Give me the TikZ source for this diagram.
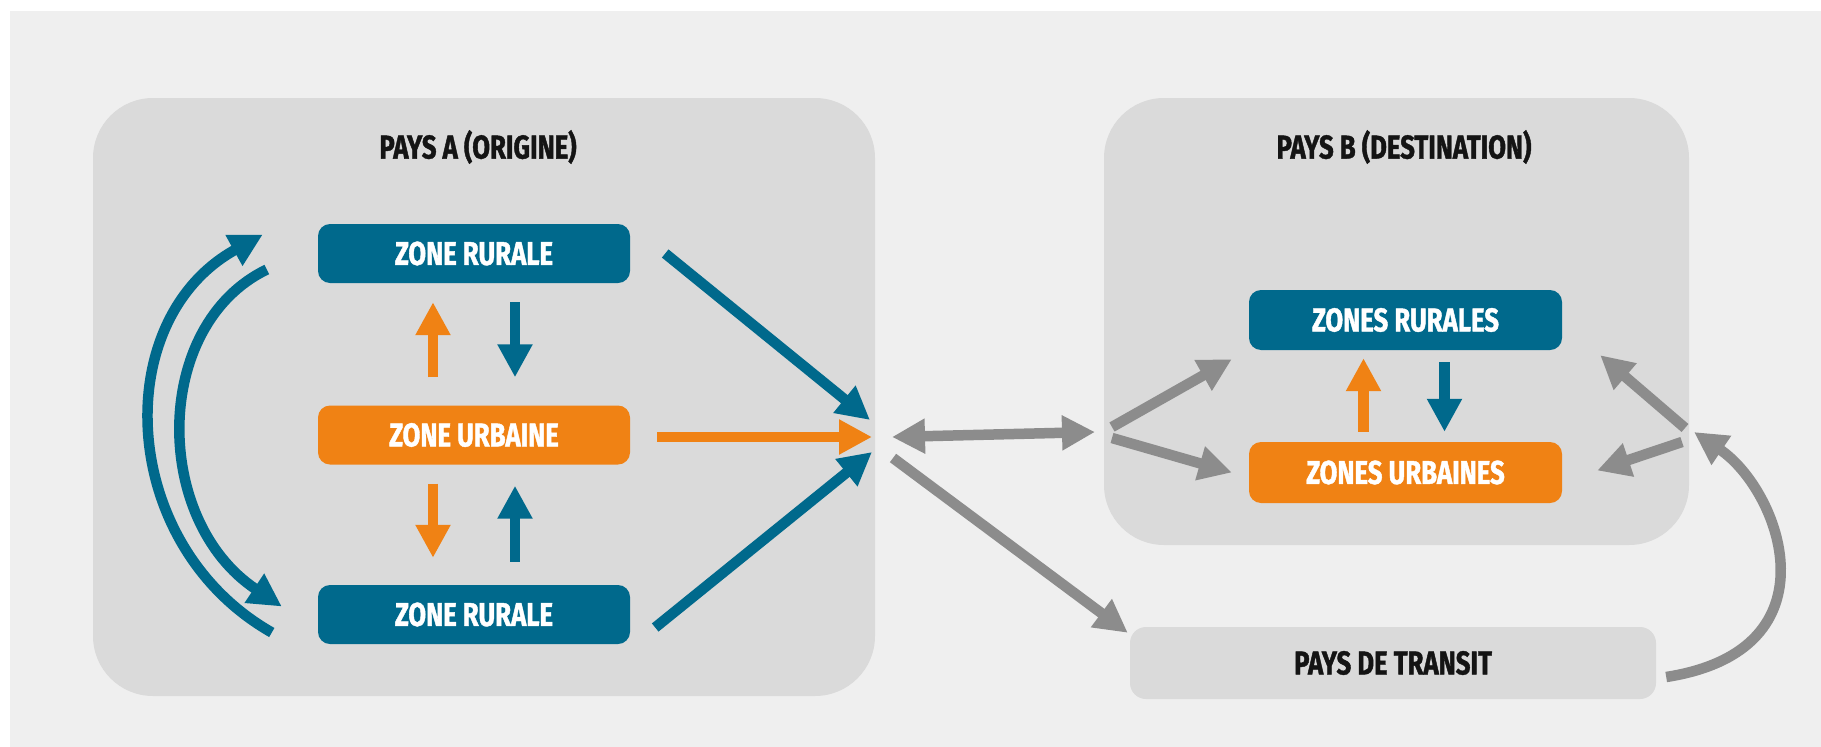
\documentclass[tikz,border=0pt]{standalone}
\usepackage{fontspec}
\setmainfont{Fira Sans}[FakeStretch=0.78, BoldFeatures={FakeBold=1.2}]
\usepackage{tikz}
\usetikzlibrary{arrows.meta,calc}

\definecolor{bleuzone}{RGB}{0,105,140}
\definecolor{orangezone}{RGB}{240,130,20}
\definecolor{grisfleche}{RGB}{140,140,140}
\definecolor{grispays}{RGB}{218,218,218}
\definecolor{grisfond}{RGB}{239,239,239}
\definecolor{noirtitre}{RGB}{20,20,20}

\tikzset{
  >={Triangle[length=33pt,width=33pt]},
  pays/.style={rectangle, rounded corners=60pt, fill=grispays, inner sep=0pt},
  zone/.style={rectangle, rounded corners=12pt, inner sep=0pt, minimum width=312pt, minimum height=59pt, text=white, font=\fontsize{33}{36}\selectfont\bfseries},
  rurale/.style={zone, fill=bleuzone},
  urbaine/.style={zone, fill=orangezone},
  transit/.style={rectangle, rounded corners=16pt, fill=grispays, inner sep=0pt, minimum width=526pt, minimum height=72pt, text=noirtitre, font=\fontsize{33}{36}\selectfont\bfseries},
  titre/.style={text=noirtitre, font=\fontsize{33}{36}\selectfont\bfseries},
  fbleu/.style={->, color=bleuzone, line width=10.5pt},
  forange/.style={->, color=orangezone, line width=10.5pt},
  fgris/.style={->, color=grisfleche, line width=10.5pt}
}

\begin{document}
\begin{tikzpicture}
  \useasboundingbox (0pt, 0pt) rectangle (1821pt, -747pt);
  \fill[white] (0pt, 0pt) rectangle (1821pt, -747pt);
  \fill[grisfond] (10pt, -11pt) rectangle (1821pt, -747pt);

  \draw (484.0pt, -397.0pt)node[pays, minimum width=782pt, minimum height=598pt](paysA){};
  \draw (1396.5pt, -321.5pt)node[pays, minimum width=585pt, minimum height=447pt](paysB){};
  \draw (1393.0pt, -663.0pt)node[transit](transit){PAYS DE TRANSIT};
  \draw (478.0pt, -147.0pt)node[titre](titreA){PAYS A (ORIGINE)};
  \draw (1404.0pt, -147.0pt)node[titre](titreB){PAYS B (DESTINATION)};
  \draw (474.0pt, -253.5pt)node[rurale](zrh){ZONE RURALE};
  \draw (474.0pt, -435.0pt)node[urbaine](zu){ZONE URBAINE};
  \draw (474.0pt, -614.5pt)node[rurale](zrb){ZONE RURALE};
  \draw (1405.5pt, -320.0pt)node[rurale, minimum width=313pt, minimum height=60pt](zbr){ZONES RURALES};
  \draw (1405.5pt, -472.5pt)node[urbaine, minimum width=313pt, minimum height=61pt](zbu){ZONES URBAINES};

  \coordinate (cA1) at (870pt, -420pt);
  \coordinate (cA2) at (872pt, -437pt);
  \coordinate (cA3) at (872pt, -452pt);
  \coordinate (cA4) at (893pt, -458pt);
  \coordinate (cB0) at (892pt, -437pt);
  \coordinate (cB1) at (1095pt, -432pt);
  \coordinate (cB2) at (1112pt, -427pt);
  \coordinate (cB3) at (1112pt, -438pt);
  \coordinate (cC1) at (1685pt, -428pt);
  \coordinate (cC2) at (1682pt, -442pt);
  \coordinate (cC3) at (1694pt, -432pt);

  \path[forange] ([xshift=-41pt]zu.north) edge[shorten <=28pt, shorten >=19pt] ([xshift=-41pt]zrh.south);
  \path[fbleu] ([xshift=41pt]zrh.south) edge[shorten <=19pt, shorten >=28pt] ([xshift=41pt]zu.north);
  \path[forange] ([xshift=-41pt]zu.south) edge[shorten <=19pt, shorten >=27pt] ([xshift=-41pt]zrb.north);
  \path[fbleu] ([xshift=41pt]zrb.north) edge[shorten <=23pt, shorten >=21pt] ([xshift=41pt]zu.south);
  \draw[fbleu] ($(zrb.west)+(-46pt,-18pt)$) .. controls (118pt, -545pt) and (108pt, -320pt) .. ($(zrh.west)+(-55pt,19pt)$);
  \draw[fbleu] ($(zrh.west)+(-51pt,-16pt)$) .. controls (152pt, -325pt) and (152pt, -520pt) .. ($(zrb.west)+(-36pt,8pt)$);
  \path[fbleu] ($(zrh.east)+(35pt,0pt)$) edge (cA1);
  \path[forange] ($(zu.east)+(27pt,-2pt)$) edge (cA2);
  \path[fbleu] ($(zrb.east)+(25pt,-13pt)$) edge (cA3);
  \path[fgris, <->] (cB0) edge (cB1);
  \path[fgris] (cB2) edge ($(zbr.south west)+(-17pt,-9pt)$);
  \path[fgris] (cB3) edge ($(zbu.west)+(-17pt,0pt)$);
  \path[fgris] (cA4) edge ($(transit.north west)+(-2pt,-6pt)$);
  \path[forange] ([xshift=-42pt]zbu.north) edge[shorten <=10pt, shorten >=8pt] ([xshift=-42pt]zbr.south);
  \path[fbleu] ([xshift=39pt]zbr.south) edge[shorten <=12pt, shorten >=10pt] ([xshift=39pt]zbu.north);
  \path[fgris] (cC1) edge ($(zbr.south east)+(38pt,-5pt)$);
  \path[fgris] (cC2) edge ($(zbu.east)+(35pt,2pt)$);
  \draw[fgris] ($(transit.east)+(10pt,-14pt)$) .. controls (1840pt, -650pt) and (1780pt, -490pt) .. (cC3);
\end{tikzpicture}
\end{document}
